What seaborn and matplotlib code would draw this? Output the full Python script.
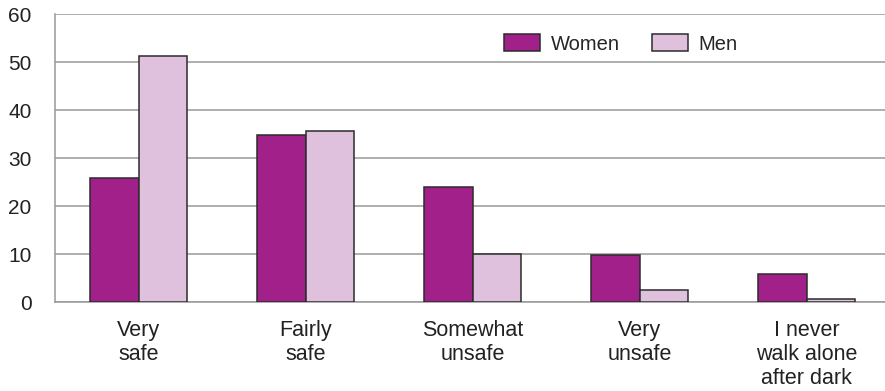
import pandas as pd
import matplotlib.pyplot as plt
import seaborn as sns
from matplotlib.ticker import FixedLocator

categories = ["Very\nsafe", "Fairly\nsafe", "Somewhat\nunsafe", "Very\nunsafe",
              "I never\nwalk alone\nafter dark"]
women = [25.8, 34.8, 24.0, 9.8, 5.8]
men = [51.3, 35.6, 10.0, 2.6, 0.6]

df = pd.DataFrame({
    "category": categories * 2,
    "value": women + men,
    "group": ["Women"] * len(categories) + ["Men"] * len(categories),
})

sns.set_style("white")
plt.rcParams["font.family"] = ["Liberation Sans", "DejaVu Sans"]

fig = plt.figure(figsize=(8.85, 3.91), dpi=100)
ax = fig.add_axes([55 / 885, 89 / 391, 830 / 885, 288 / 391])

sns.barplot(data=df, x="category", y="value", hue="group",
            palette={"Women": "#A2208A", "Men": "#E0C1DD"}, saturation=1,
            width=0.575, edgecolor="#2b2b2b", linewidth=1.1, ax=ax, zorder=3)

ax.set_ylim(0, 60)
ax.set_xlim(-0.5, 4.47)
ax.set_yticks(range(0, 61, 10))
ax.yaxis.grid(True, color="#999999", linewidth=1.1, zorder=0)
ax.set_axisbelow(True)
for s in ["top", "right"]:
    ax.spines[s].set_visible(False)
for s in ["left", "bottom"]:
    ax.spines[s].set_color("#999999")
    ax.spines[s].set_linewidth(1.1)

ax.tick_params(axis="y", length=0, labelsize=15, colors="#222222", pad=17)
ax.tick_params(axis="x", which="major", length=0, labelsize=15.5, colors="#222222", pad=13)
ax.xaxis.set_minor_locator(FixedLocator([-0.5, 0.5, 1.5, 2.5, 3.5]))
ax.tick_params(axis="x", which="minor", length=6, width=1.1, color="#999999", direction="out")
ax.set_xlabel("")
ax.set_ylabel("")

ax.legend(title=None, ncol=2, frameon=False, loc="center left",
          bbox_to_anchor=(431 / 830, 1 - 30 / 288), fontsize=14.5,
          handlelength=1.8, handleheight=0.9, columnspacing=1.6, handletextpad=0.5)

fig.savefig("out.png", dpi=100)
